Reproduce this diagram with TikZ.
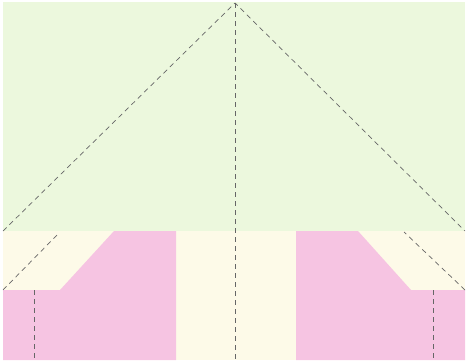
\documentclass[tikz,border=0pt]{standalone}
\begin{document}
\begin{tikzpicture}[x=1pt,y=-1pt,
  dline/.style={draw=black!60,line width=0.7pt,dash pattern=on 5pt off 4pt}]
\definecolor{gr}{RGB}{236,248,221}
\definecolor{cr}{RGB}{253,250,232}
\definecolor{pk}{RGB}{246,196,226}
\useasboundingbox (0,0) rectangle (467,364);
\fill[gr] (3,2) rectangle (465,231);
\fill[cr] (3,231) rectangle (465,360);
\fill[pk] (3,290) -- (60,290) -- (114,231) -- (176,231) -- (176,360) -- (3,360) -- cycle;
\fill[pk] (296,231) -- (358,231) -- (411,290) -- (465,290) -- (465,360) -- (296,360) -- cycle;
\coordinate (apex) at (235,3);
\coordinate (lb) at (3,231);
\coordinate (rb) at (465,231);
\coordinate (bot) at (235,360);
\draw[dline] (lb) -- (apex) -- (rb);
\draw[dline] (apex) -- (bot);
\coordinate (l1) at (3,290); \coordinate (l2) at (57,235);
\coordinate (r1) at (465,290); \coordinate (r2) at (404,232);
\draw[dline] (l1) -- (l2);
\draw[dline] (r1) -- (r2);
\coordinate (lv1) at (34,290); \coordinate (lv2) at (34,360);
\coordinate (rv1) at (433,290); \coordinate (rv2) at (433,360);
\draw[dline] (lv1) -- (lv2);
\draw[dline] (rv1) -- (rv2);
\end{tikzpicture}
\end{document}
